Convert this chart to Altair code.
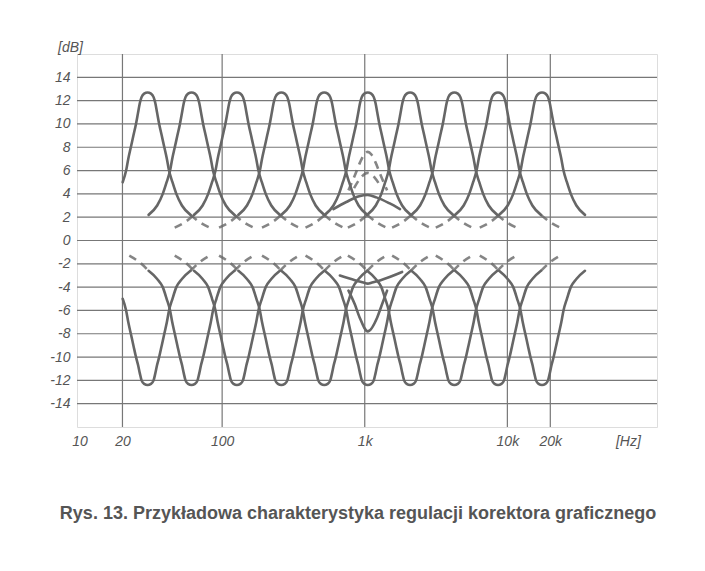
import altair as alt
import pandas as pd

# ---- data ----
band_centers_hz = [30, 61, 127, 260, 520, 1050, 2080, 4250, 8600, 17500]

# shape of one band curve: distance from centre (octaves) -> gain (dB)
profile_octaves = [0.0, 0.08, 0.14, 0.18, 0.22, 0.27, 0.33, 0.39, 0.45, 0.5, 0.58, 0.67, 0.8, 1.0, 1.2, 1.45]
boost_db = [12.7, 12.6, 12.3, 11.8, 11.0, 10.0, 9.0, 8.0, 7.0, 6.0, 5.0, 4.0, 3.0, 2.2, 1.6, 1.1]
cut_db = [-12.4, -12.3, -12.0, -11.4, -10.7, -10.0, -9.0, -8.0, -7.0, -6.0, -5.0, -4.0, -3.3, -2.6, -1.9, -1.3]

# how far (octaves) each drawn curve reaches to the left / right
boost_left_reach = [0.58, 1.0, 1.45, 1.45, 1.45, 1.45, 1.45, 1.45, 1.45, 1.45]
boost_right_reach = [1.45, 1.45, 1.45, 1.45, 1.45, 1.45, 1.45, 1.45, 1.45, 1.0]
cut_left_reach = [0.58, 1.45, 1.45, 1.45, 1.45, 1.45, 1.45, 1.45, 1.45, 1.45]
cut_right_reach = [1.45, 1.45, 1.45, 1.45, 1.45, 1.45, 1.45, 1.45, 1.45, 1.0]

# intermediate settings of the 1 kHz band
k1_center_hz = 1050
k1_boost8_oct = [-0.45, -0.3, -0.18, -0.08, 0.0, 0.08, 0.18, 0.3, 0.45]
k1_boost8_db = [4.3, 5.6, 6.7, 7.4, 7.6, 7.4, 6.7, 5.6, 4.3]
k1_boost6_oct = [-0.32, -0.16, 0.0, 0.16, 0.32]
k1_boost6_db = [4.5, 5.4, 5.8, 5.4, 4.5]
k1_boost4_oct = [-0.8, -0.5, -0.2, 0.0, 0.2, 0.5, 0.75]
k1_boost4_db = [2.7, 3.3, 3.8, 3.9, 3.7, 3.2, 2.7]
k1_cut8_oct = [-0.45, -0.3, -0.19, 0.0, 0.22, 0.32, 0.45]
k1_cut8_db = [-4.3, -5.5, -6.6, -7.8, -6.6, -5.6, -4.3]
k1_cut4_oct = [-0.65, -0.3, -0.1, 0.0, 0.1, 0.3, 0.8]
k1_cut4_db = [-3.0, -3.4, -3.6, -3.7, -3.6, -3.4, -2.7]

grid_db = [-14, -12, -10, -8, -6, -4, -2, 0, 2, 4, 6, 8, 10, 12, 14]
grid_hz = [20, 100, 1000, 10000, 20000]
x_tick_hz = [10, 20, 100, 1000, 10000, 20000, 70000]
x_tick_text = ["10", "20", "100", "1k", "10k", "20k", "[Hz]"]
y_tick_db = [-14, -12, -10, -8, -6, -4, -2, 0, 2, 4, 6, 8, 10, 12, 14, 16]
caption = "Rys. 13. Przykładowa charakterystyka regulacji korektora graficznego"

# ---- build tables ----
solid_rows, dashed_rows = [], []


def add_band(name, center, gains, lreach, rreach):
    pts = []
    for o, g in zip(profile_octaves, gains):
        if o <= lreach + 1e-9 and o > 0:
            pts.append((-o, g))
    pts.append((0.0, gains[0]))
    for o, g in zip(profile_octaves, gains):
        if o <= rreach + 1e-9 and o > 0:
            pts.append((o, g))
    pts.sort()
    for o, g in pts:
        hz = center * 2 ** o
        if -1.0 - 1e-9 <= o <= 1.0 + 1e-9:
            solid_rows.append({"seg": name + "m", "hz": hz, "db": g})
        if o <= -1.0 + 1e-9:
            dashed_rows.append({"seg": name + "l", "hz": hz, "db": g})
        if o >= 1.0 - 1e-9:
            dashed_rows.append({"seg": name + "r", "hz": hz, "db": g})


for i, c in enumerate(band_centers_hz):
    add_band(f"b{i}", c, boost_db, boost_left_reach[i], boost_right_reach[i])
    add_band(f"c{i}", c, cut_db, cut_left_reach[i], cut_right_reach[i])


def add_mid(name, octs, gains, rows):
    for o, g in zip(octs, gains):
        rows.append({"seg": name, "hz": k1_center_hz * 2 ** o, "db": g})


add_mid("k8", k1_boost8_oct, k1_boost8_db, dashed_rows)
add_mid("k6", k1_boost6_oct, k1_boost6_db, dashed_rows)
add_mid("k4", k1_boost4_oct, k1_boost4_db, solid_rows)
add_mid("kc8", k1_cut8_oct, k1_cut8_db, solid_rows)
add_mid("kc4", k1_cut4_oct, k1_cut4_db, solid_rows)

solid_df = pd.DataFrame(solid_rows)
dashed_df = pd.DataFrame(dashed_rows)
grid_y_df = pd.DataFrame({"db": grid_db})
grid_x_df = pd.DataFrame({"hz": grid_hz})

# ---- chart ----
xscale = alt.Scale(type="log", domain=[9.6, 112000], nice=False)
yscale = alt.Scale(domain=[-16, 16], nice=False, zero=False)
INK = "#666666"
LABEL = "#555555"

x_expr = "".join(f"datum.value == {v} ? '{t}' : " for v, t in zip(x_tick_hz, x_tick_text)) + "''"

xaxis = alt.Axis(values=x_tick_hz, labelExpr=x_expr, ticks=False, tickSize=0, domain=False,
                 grid=False, title=None, labelFont="Liberation Sans", labelFontStyle="italic",
                 labelFontSize=14, labelColor=LABEL, labelPadding=7, labelFlush=False,
                 labelOverlap=False)
yaxis = alt.Axis(values=y_tick_db, labelExpr="datum.value == 16 ? '[dB]' : '' + datum.value",
                 ticks=False, tickSize=0, domain=False, grid=False, title=None,
                 labelFont="Liberation Sans", labelFontStyle="italic", labelFontSize=14,
                 labelColor=LABEL, labelPadding=7, labelFlush=False, labelOverlap=False,
                 labelAlign={"condition": {"test": "datum.value == 16", "value": "center"}, "value": "right"},
                 labelBaseline={"condition": {"test": "datum.value == 16", "value": "bottom"}, "value": "middle"})

hgrid = alt.Chart(grid_y_df).mark_rule(color="#777777", strokeWidth=1.2).encode(
    y=alt.Y("db:Q", scale=yscale, axis=yaxis))
vgrid = alt.Chart(grid_x_df).mark_rule(color="#777777", strokeWidth=1.2).encode(
    x=alt.X("hz:Q", scale=xscale, axis=xaxis))

solid = alt.Chart(solid_df).mark_line(color=INK, strokeWidth=2.6, interpolate="monotone",
                                      strokeCap="round").encode(
    x=alt.X("hz:Q", scale=xscale, axis=xaxis),
    y=alt.Y("db:Q", scale=yscale, axis=yaxis),
    detail="seg:N")
dashed = alt.Chart(dashed_df).mark_line(color=INK, strokeWidth=2.6, interpolate="monotone",
                                        strokeDash=[8, 6], opacity=0.8).encode(
    x=alt.X("hz:Q", scale=xscale, axis=xaxis),
    y=alt.Y("db:Q", scale=yscale, axis=yaxis),
    detail="seg:N")

chart = alt.layer(hgrid, vgrid, dashed, solid).properties(
    width=580, height=373,
    title=alt.TitleParams(caption, orient="bottom", anchor="middle", fontSize=18,
                          font="Liberation Sans", fontWeight="bold", color=LABEL, offset=57,
                          dx=-9),
    autosize=alt.AutoSizeParams(type="none"),
    padding={"left": 69, "top": 46, "right": 40, "bottom": 136},
).configure_view(stroke=INK, strokeWidth=1.6).configure(background="white")

chart.save("out.html", embed_options={"renderer": "svg", "actions": False})
